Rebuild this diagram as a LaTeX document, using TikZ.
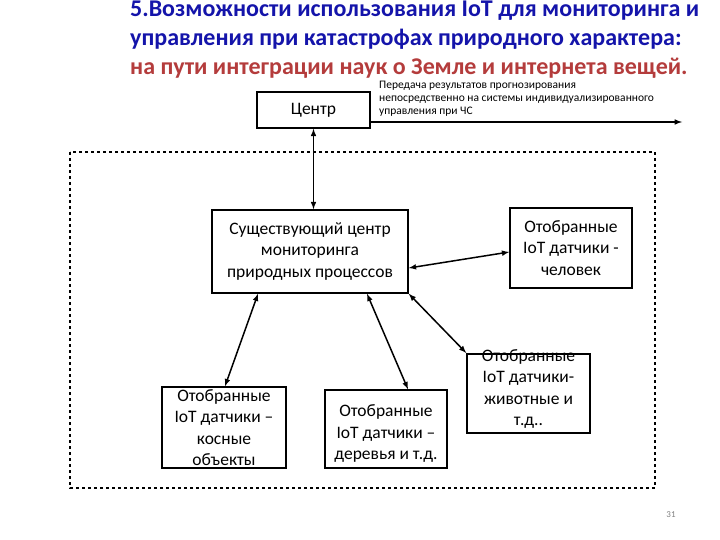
\documentclass[tikz,border=0pt]{standalone}
\usepackage{fontspec}
\setmainfont{Carlito}
\begin{document}
\begin{tikzpicture}[x=1pt,y=-1pt,
 box/.style={draw,line width=1.5pt,align=center,inner sep=0pt,font=\fontsize{17.5}{21.5}\selectfont},
 con/.style={line width=1.5pt,<->,>=latex}]
\useasboundingbox (0,0) rectangle (720,540);
\definecolor{tblue}{RGB}{20,20,170}
\definecolor{tred}{RGB}{180,60,60}
\node[anchor=north west,align=left,font=\bfseries\fontsize{24}{29}\selectfont,inner sep=0pt] (title) at (130,1)
 {\textcolor{tblue}{5.Возможности использования IoT для мониторинга  и}\\
  \textcolor{tblue}{управления при катастрофах природного характера:}\\
  \textcolor{tred}{на пути интеграции наук о Земле и интернета вещей.}};
\draw[line width=1.5pt,dashed] (70,152) rectangle (655,488);
\node[box,minimum width=113,minimum height=36] (c) at (313.5,110) {Центр};
\node[box,minimum width=196,minimum height=83] (m) at (310,251.5) {Существующий центр\\мониторинга\\природных процессов};
\node[box,minimum width=122,minimum height=80] (h) at (571,248) {Отобранные\\IoT датчики -\\человек};
\node[box,minimum width=124,minimum height=81] (b1) at (224,427.5) {Отобранные\\IoT датчики –\\косные\\объекты};
\node[box,minimum width=122,minimum height=78] (b2) at (386,429) {\\Отобранные\\IoT датчики –\\деревья и т.д.};
\node[box,minimum width=123,minimum height=79,anchor=north] (b3) at (528.5,353) {};
\node[align=center,font=\fontsize{17.5}{21.5}\selectfont,anchor=north] (b3t) at (528.5,346) {Отобранные\\IoT датчики-\\животные и\\т.д..};
\coordinate (e) at (682,122);
\draw[line width=1.5pt,-latex] (c.east |- 0,122) -- (e);
\node[anchor=south west,align=left,font=\fontsize{11.5}{13}\selectfont,inner sep=0pt] (ann) at (379,117)
 {Передача результатов прогнозирования\\непосредственно на системы индивидуализированного\\управления при ЧС};
\draw[con] (m.north -| c.south) -- (c.south);
\draw[con] (m.east |- 0,268) -- (h.west |- 0,252);
\draw[con] (m.south -| 258,0) -- (b1.north -| 225,0);
\draw[con] (m.south -| 367,0) -- (b2.north -| 408,0);
\draw[con] (m.south east) -- (b3.north west);
\node[font=\fontsize{9}{10}\selectfont,text=gray] (pg) at (671,515) {31};
\end{tikzpicture}
\end{document}
